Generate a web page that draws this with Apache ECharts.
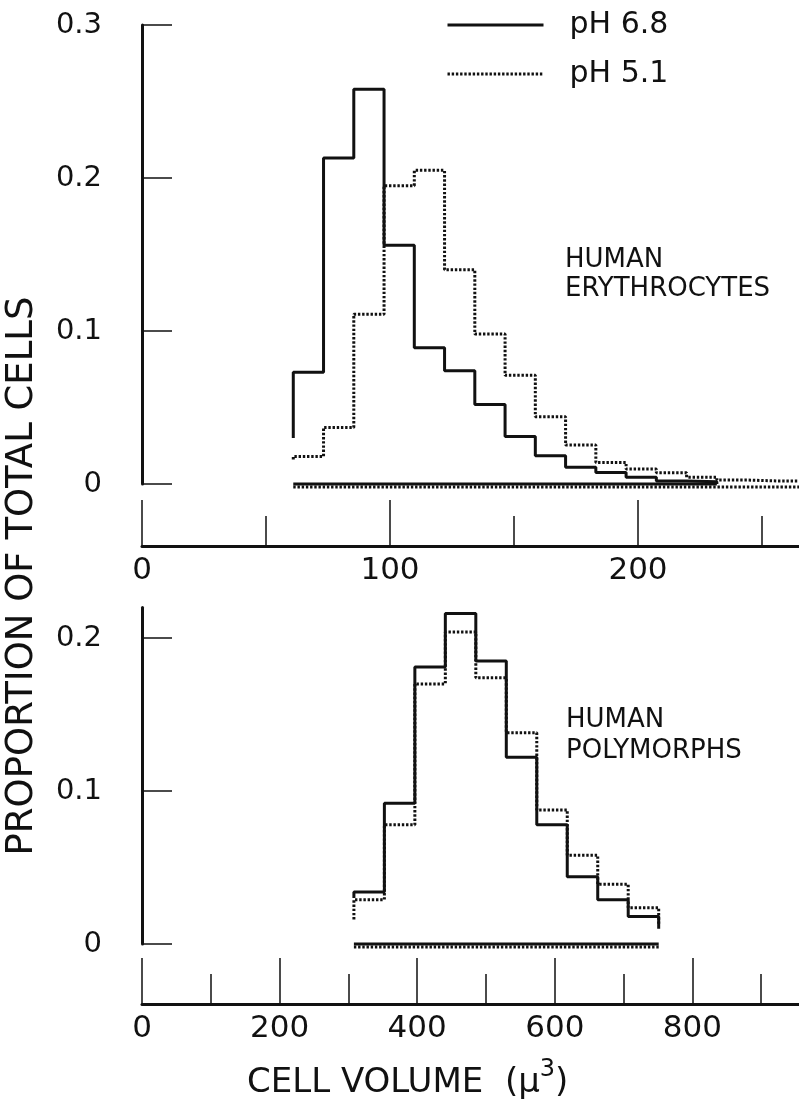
<!DOCTYPE html>
<html>
<head>
<meta charset="utf-8">
<script src="https://cdn.jsdelivr.net/npm/echarts@6.0.0/dist/echarts.min.js"></script>
<style>
html,body{margin:0;padding:0;background:#fff;}
#chart{width:799px;height:1103px;}
</style>
</head>
<body>
<div id="chart"></div>
<script>
// ---------- data ----------
const seriesNames = ['pH 6.8', 'pH 5.1'];

// Top panel: human erythrocytes (cell volume, µ³)
const topBinEdges = [61, 73.2, 85.4, 97.6, 109.8, 122, 134.2, 146.4, 158.6, 170.8, 183, 195.2, 207.4, 219.6, 231.8, 244, 256.2, 268.4];
const topPH68 = [0.073, 0.213, 0.258, 0.156, 0.089, 0.074, 0.052, 0.031, 0.0185, 0.011, 0.0075, 0.0044, 0.002, 0.0015];
const topPH68Ends = [0.030, 0];
const topPH51 = [0.018, 0.037, 0.111, 0.195, 0.205, 0.140, 0.098, 0.071, 0.044, 0.0255, 0.014, 0.0098, 0.0074, 0.0044, 0.0026, 0.002, 0.002];
const topPH51Ends = [0.016, 0.002];

// Bottom panel: human polymorphs
const botBinEdges = [308, 352.3, 396.6, 440.9, 485.2, 529.5, 573.8, 618.1, 662.4, 706.7, 751];
const botPH68 = [0.034, 0.092, 0.181, 0.216, 0.185, 0.122, 0.078, 0.044, 0.029, 0.018];
const botPH68Ends = [0.030, 0.010];
const botPH51 = [0.029, 0.078, 0.170, 0.204, 0.174, 0.138, 0.0876, 0.058, 0.039, 0.0237];
const botPH51Ends = [0.016, 0.012];

// baseline levels (the dotted baseline sits just under the solid one)
const baselineLevels = [0, -0.002];

// axis ticks
const topYTicks = [0, 0.1, 0.2, 0.3];
const botYTicks = [0, 0.1, 0.2];
const topXTickLabels = ['0', '100', '200'];
const botXTickLabels = ['0', '200', '400', '600', '800'];

// texts
const panelLabels = ['HUMAN\nERYTHROCYTES', 'HUMAN\nPOLYMORPHS'];
const yTitle = 'PROPORTION OF TOTAL CELLS';
const xTitleParts = ['CELL VOLUME  (μ', '3', ')'];

// ---------- helpers ----------
function stepPoints(edges, vals, ends) {
  const pts = [[edges[0], ends[0]]];
  for (let i = 0; i < vals.length; i++) {
    pts.push([edges[i], vals[i]]);
    pts.push([edges[i + 1], vals[i]]);
  }
  pts.push([edges[vals.length], ends[1]]);
  return pts;
}
function baseline(edges, nBins, level) {
  return [[edges[0], level], [edges[nBins], level]];
}

const INK = '#111';
const FONT = 'DejaVu Sans';
const solidStyle = { color: INK, width: 3, type: 'solid' };
const dotStyle = { color: INK, width: 3, type: [2.4, 1.8] };

function lineSeries(name, xi, data, style, z) {
  return {
    name: name, type: 'line', xAxisIndex: xi, yAxisIndex: xi,
    data: data, symbol: 'none', showSymbol: false, color: INK,
    itemStyle: { color: INK },
    lineStyle: style, clip: false, silent: true, animation: false, z: z
  };
}

function yAxisCfg(gi, max, ticks) {
  return {
    gridIndex: gi, type: 'value', min: 0, max: max, interval: 0.1, offset: 31,
    axisLine: { show: true, lineStyle: { color: INK, width: 3 } },
    axisTick: { show: true, inside: true, length: 30, lineStyle: { color: INK, width: 1.5 }, customValues: ticks },
    axisLabel: { show: true, margin: 9, fontSize: 29, fontFamily: FONT, color: INK, customValues: ticks },
    splitLine: { show: false }
  };
}
function xAxisCfg(gi, max, interval, offset, labels) {
  return {
    gridIndex: gi, type: 'value', min: 0, max: max, interval: interval, offset: offset,
    axisLine: { show: true, onZero: false, lineStyle: { color: INK, width: 3 } },
    axisTick: { show: true, inside: true, length: 46, lineStyle: { color: INK, width: 1.5 } },
    minorTick: { show: true, splitNumber: 2, length: 30, lineStyle: { color: INK, width: 1.5 } },
    axisLabel: {
      show: true, margin: 9, fontSize: 31, fontFamily: FONT, color: INK, showMaxLabel: false,
      formatter: function (v) { const s = String(v); return labels.indexOf(s) >= 0 ? s : ''; }
    },
    splitLine: { show: false }, minorSplitLine: { show: false }
  };
}

const chart = echarts.init(document.getElementById('chart'), null, { renderer: 'canvas' });

const option = {
  backgroundColor: '#fff',
  animation: false,
  color: [INK, INK],
  grid: [
    { left: 142, top: 25, height: 459, width: 744, outerBoundsMode: 'none', containLabel: false },
    { left: 142, top: 607.4, height: 336.6, width: 688, outerBoundsMode: 'none', containLabel: false }
  ],
  xAxis: [
    xAxisCfg(0, 300, 100, 62, topXTickLabels),
    xAxisCfg(1, 1000, 200, 60, botXTickLabels)
  ],
  yAxis: [
    yAxisCfg(0, 0.3, topYTicks),
    yAxisCfg(1, 0.22, botYTicks)
  ],
  legend: {
    data: [
      { name: seriesNames[0], lineStyle: { width: 3 }, itemStyle: { opacity: 0 } },
      { name: seriesNames[1], lineStyle: { width: 3 }, itemStyle: { opacity: 0 } }
    ],
    orient: 'vertical', left: 441, top: 5,
    itemWidth: 96, itemHeight: 30, itemGap: 19,
    selectedMode: false,
    itemStyle: { opacity: 0 },
    textStyle: { fontSize: 30, fontFamily: FONT, color: INK, padding: [0, 0, 0, 21] }
  },
  graphic: [
    {
      type: 'text', x: 565, y: 246, silent: true,
      style: { text: panelLabels[0], font: '26px "DejaVu Sans"', fill: INK, lineHeight: 29, textAlign: 'left', textVerticalAlign: 'top' }
    },
    {
      type: 'text', x: 566, y: 705, silent: true,
      style: { text: panelLabels[1], font: '26px "DejaVu Sans"', fill: INK, lineHeight: 31, textAlign: 'left', textVerticalAlign: 'top' }
    },
    {
      type: 'text', x: 22, y: 576, rotation: Math.PI / 2, silent: true,
      style: { text: yTitle, font: '37px "DejaVu Sans"', fill: INK, textAlign: 'center', textVerticalAlign: 'middle' }
    },
    {
      type: 'text', x: 247, y: 1079, silent: true,
      style: {
        text: '{a|' + xTitleParts[0] + '}{s|' + xTitleParts[1] + '}{a|' + xTitleParts[2] + '}',
        textAlign: 'left', textVerticalAlign: 'middle',
        rich: {
          a: { fontSize: 34, fontFamily: FONT, fill: INK, color: INK, lineHeight: 42, verticalAlign: 'bottom' },
          s: { fontSize: 24, fontFamily: FONT, fill: INK, color: INK, lineHeight: 42, verticalAlign: 'top' }
        }
      }
    }
  ],
  series: [
    // top panel
    lineSeries(seriesNames[1], 0, stepPoints(topBinEdges, topPH51, topPH51Ends), dotStyle, 3),
    lineSeries(seriesNames[0], 0, stepPoints(topBinEdges, topPH68, topPH68Ends), solidStyle, 4),
    lineSeries('base51-top', 0, baseline(topBinEdges, topPH51.length, baselineLevels[1]), dotStyle, 2),
    lineSeries('base68-top', 0, baseline(topBinEdges, topPH68.length, baselineLevels[0]), solidStyle, 2),
    // bottom panel
    lineSeries(seriesNames[1], 1, stepPoints(botBinEdges, botPH51, botPH51Ends), dotStyle, 3),
    lineSeries(seriesNames[0], 1, stepPoints(botBinEdges, botPH68, botPH68Ends), solidStyle, 4),
    lineSeries('base51-bot', 1, baseline(botBinEdges, botPH51.length, baselineLevels[1]), dotStyle, 2),
    lineSeries('base68-bot', 1, baseline(botBinEdges, botPH68.length, baselineLevels[0]), solidStyle, 2)
  ]
};
chart.setOption(option);
</script>
</body>
</html>
